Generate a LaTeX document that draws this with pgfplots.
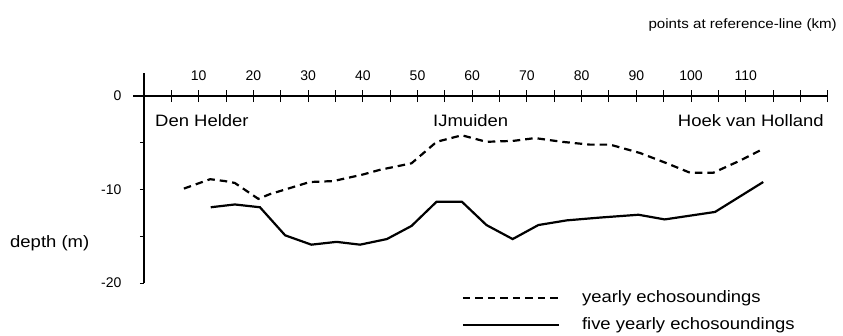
\documentclass[border=0pt]{standalone}
\usepackage{fontspec}
\setmainfont{Liberation Sans}
\newfontfamily\lab{Liberation Sans}[FakeStretch=1.12]
\usepackage{pgfplots}
\pgfplotsset{compat=1.18}
\newcommand\labfont{\lab\fontsize{16.5}{19}\selectfont}
\newcommand\tickfont{\fontsize{14}{16}\selectfont}
\newcommand\topfont{\lab\fontsize{13.5}{16}\selectfont}
\begin{document}
\begin{tikzpicture}[font=\labfont]
\begin{axis}[
  x=5.47pt, y=9.35pt,
  xmin=0, xmax=125, ymin=-20, ymax=2.5,
  axis x line=middle, axis y line=left,
  axis line style={-, line width=1.2pt},
  clip=false,
  tick align=center,
  xtick={10,20,...,110},
  minor xtick={5,15,...,125,120},
  x tick style={line width=1pt, black, /pgfplots/major tick length=12pt, /pgfplots/minor tick length=12pt},
  ytick={0,-10,-20},
  yticklabels={0,-10,-20},
  minor ytick={-5,-15},
  y tick style={line width=1pt, black, /pgfplots/major tick length=4pt, /pgfplots/minor tick length=4pt, xshift=-2pt},
  /pgf/number format/assume math mode=true,
  xticklabel style={font=\tickfont, anchor=south, yshift=14pt},
  yticklabel style={font=\tickfont, anchor=east, xshift=-17pt},
  legend style={draw=none, fill=none, at={(axis cs:58.1,-20.75)}, anchor=north west,
    inner sep=0pt, outer sep=0pt, font=\labfont, row sep=11.5pt,
    nodes={inner sep=0pt, text height=12pt, text depth=3.5pt},
    cells={anchor=west},
    /tikz/every odd column/.append style={column sep=22pt}},
  legend image code/.code={\draw[#1] (0pt,0pt) -- (96pt,0pt);},
]
\addplot[black, line width=2.2pt, dash pattern=on 7.5pt off 5pt] coordinates {
 (7.3,-9.9) (12.1,-8.9) (14.8,-9.1) (16.6,-9.3) (20.9,-11.0) (23.0,-10.5)
 (30.3,-9.2) (34.6,-9.1) (40.0,-8.4) (43.1,-7.9) (48.9,-7.2) (53.5,-4.9)
 (58.1,-4.2) (62.6,-4.9) (67.5,-4.8) (71.5,-4.5) (76.4,-4.9) (81.5,-5.2)
 (85.2,-5.2) (90.7,-6.1) (95.6,-7.2) (99.8,-8.2) (104.1,-8.2) (109.0,-6.9)
 (112.7,-5.8)
};
\addlegendentry{yearly echosoundings}
\addplot[black, line width=2.2pt] coordinates {
 (12.2,-11.9) (16.6,-11.6) (21.2,-11.9) (25.8,-14.9) (30.6,-15.9) (35.2,-15.6)
 (39.5,-15.9) (44.4,-15.3) (48.9,-13.9) (53.5,-11.3) (58.1,-11.3) (62.6,-13.8)
 (67.4,-15.3) (72.1,-13.8) (77.3,-13.3) (83.4,-13.0) (90.4,-12.7) (95.2,-13.2)
 (104.4,-12.4) (113.2,-9.2)
};
\addlegendentry{five yearly echosoundings}
\draw[line width=1.2pt] (axis cs:-2,0) -- (axis cs:0,0);
\coordinate (O) at (axis cs:0,0);
\end{axis}
\node[anchor=base west, inner sep=0pt] at ([shift={(11pt,-31pt)}]O) {Den Helder};
\node[anchor=base west, inner sep=0pt] at ([shift={(289pt,-31pt)}]O) {IJmuiden};
\node[anchor=base east, inner sep=0pt] at ([shift={(680pt,-31pt)}]O) {Hoek van Holland};
\node[anchor=base east, inner sep=0pt, font=\topfont] at ([shift={(693pt,67pt)}]O) {points at reference-line (km)};
\node[anchor=base west, inner sep=0pt] at ([shift={(-134pt,-151pt)}]O) {depth (m)};
\useasboundingbox ([shift={(-144pt,-239pt)}]O) rectangle ([shift={(699pt,96pt)}]O);
\end{tikzpicture}
\end{document}
